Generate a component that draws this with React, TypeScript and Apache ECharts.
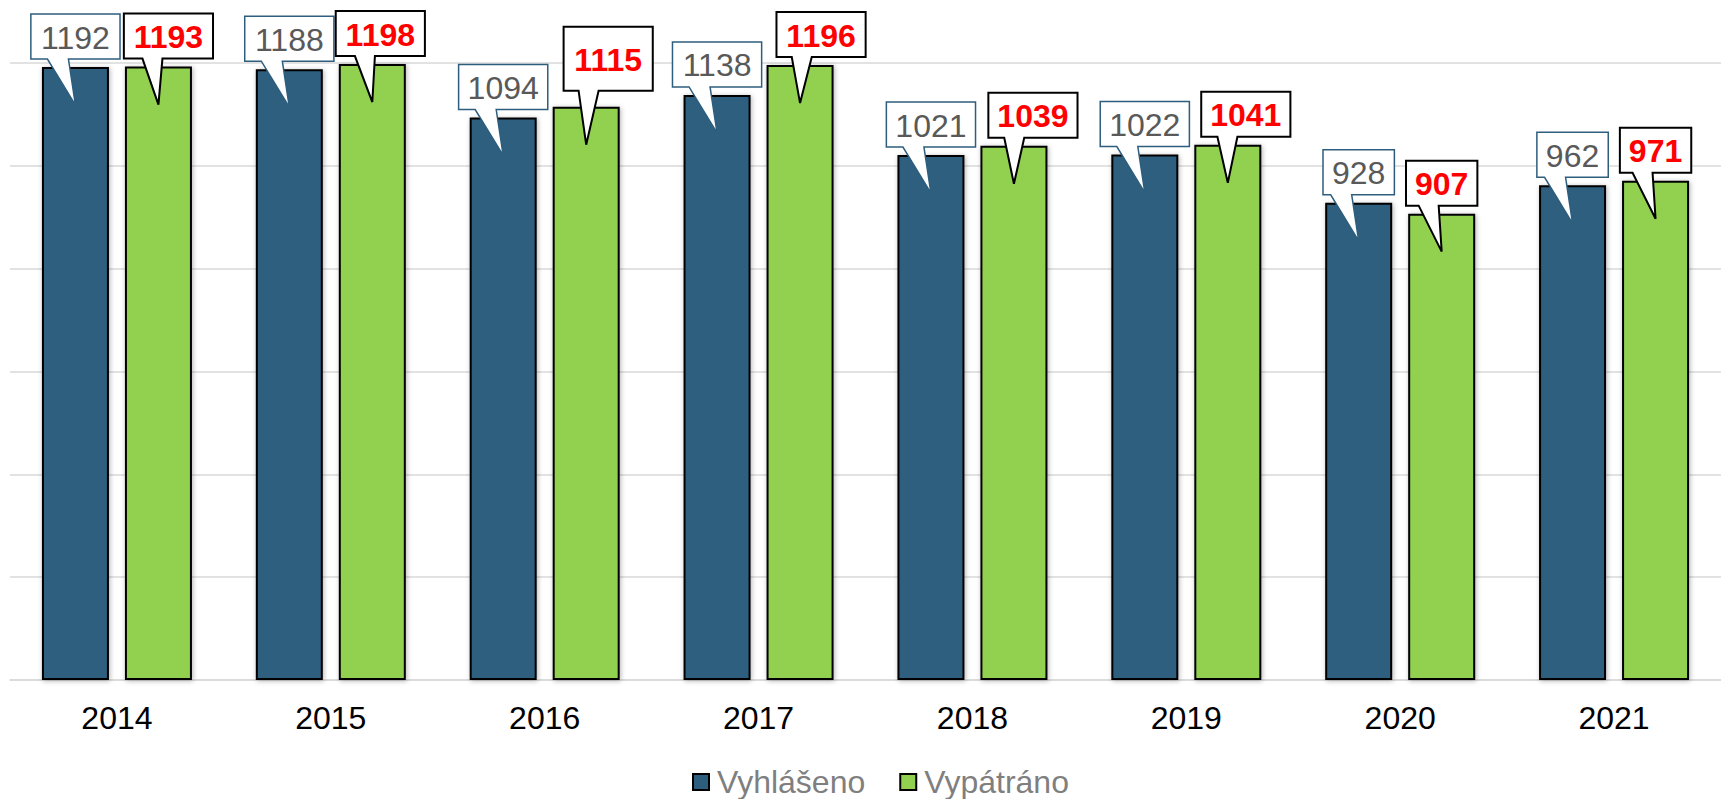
import React, { useEffect, useRef } from "react";
import * as echarts from "echarts";

const years = ["2014", "2015", "2016", "2017", "2018", "2019", "2020", "2021"];
const vyhlaseno = [1192, 1188, 1094, 1138, 1021, 1022, 928, 962];
const vypatrano = [1193, 1198, 1115, 1196, 1039, 1041, 907, 971];
const seriesNames = ["Vyhlášeno", "Vypátráno"];

// label-layout styling: horizontal nudge (px) of the green callouts to avoid the blue ones
const greenCalloutNudge = [10, 8, 22, 21, 19, 18, 0, 0];
// callouts that are drawn raised & taller
const greenRaised = [false, false, true, false, false, false, false, false];

const FONT = "Liberation Sans, Arial, Helvetica, sans-serif";
const BLUE = "#2E5E7E";
const GREEN = "#92D050";
const BAR_W = 67;
const BAR_GAP = 16;
const LABEL_SIZE = 32;

function makeCallout(kind: "blue" | "green") {
  const offset = kind === "blue" ? -(BAR_W + BAR_GAP) / 2 : (BAR_W + BAR_GAP) / 2;
  return (params: any, api: any) => {
    const idx = api.value(0);
    const val = api.value(1);
    const p = api.coord([idx, val]);
    const cx = p[0] + offset;
    const barTop = p[1];
    const txt = String(val);
    const bold = kind === "green";
    const nudge = kind === "green" ? greenCalloutNudge[idx] : 0;
    const bx = cx + nudge;
    const w = txt.length * LABEL_SIZE * 0.556 + 18;
    const raised = kind === "green" && greenRaised[idx];
    const B = barTop - (raised ? 16 : 8);
    const T = raised ? barTop - 80 : B - 45;
    const L = bx - w / 2;
    const R = bx + w / 2;
    const a = kind === "blue" ? cx - 28 : cx - 23 + nudge * 0.7;
    const b = kind === "blue" ? cx - 7 : a + 20;
    const tx = cx;
    const ty = barTop + 38;
    return {
      type: "group",
      children: [
        {
          type: "polygon",
          shape: {
            points: [
              [L, T],
              [R, T],
              [R, B],
              [b, B],
              [tx, ty],
              [a, B],
              [L, B],
            ],
          },
          style: {
            fill: "#ffffff",
            stroke: kind === "blue" ? BLUE : "#000000",
            lineWidth: kind === "blue" ? 1.5 : 2,
            lineJoin: "miter",
          },
        },
        {
          type: "text",
          style: {
            text: txt,
            x: bx,
            y: (T + B) / 2 + 1,
            align: "center",
            verticalAlign: "middle",
            fontFamily: FONT,
            fontSize: LABEL_SIZE,
            fontWeight: bold ? "bold" : "normal",
            fill: kind === "blue" ? "#595959" : "#FF0000",
          },
        },
      ],
    };
  };
}

export default function App() {
  const ref = useRef<HTMLDivElement>(null);
  useEffect(() => {
    if (!ref.current) return;
    const chart = echarts.init(ref.current, null, { renderer: "svg" });
    const barStyle = (color: string) => ({
      color,
      borderColor: "#000000",
      borderWidth: 2,
      shadowBlur: 5,
      shadowColor: "rgba(0,0,0,0.3)",
      shadowOffsetX: 1,
      shadowOffsetY: 1,
    });
    chart.setOption({
      animation: false,
      backgroundColor: "#ffffff",
      textStyle: { fontFamily: FONT },
      grid: { left: 10, top: 63, width: 1727, bottom: 119, containLabel: false },
      legend: {
        data: seriesNames,
        left: 692,
        top: 766,
        padding: 0,
        icon: "rect",
        itemWidth: 16,
        itemHeight: 16,
        itemGap: 34,
        textStyle: {
          color: "#7F7F7F",
          fontSize: 32,
          lineHeight: 31,
          fontFamily: FONT,
          padding: [0, 0, 0, 3],
        },
      },
      xAxis: {
        type: "category",
        data: years,
        axisTick: { show: false },
        axisLine: { lineStyle: { color: "#D9D9D9", width: 1.5 } },
        axisLabel: { color: "#000000", fontSize: 32, margin: 22, fontFamily: FONT },
      },
      yAxis: {
        type: "value",
        min: 0,
        max: 1200,
        interval: 200,
        axisLabel: { show: false },
        axisLine: { show: false },
        axisTick: { show: false },
        splitLine: { lineStyle: { color: "#D9D9D9", width: 1.5 } },
      },
      series: [
        {
          name: seriesNames[0],
          type: "bar",
          data: vyhlaseno,
          barWidth: BAR_W,
          barGap: `${(BAR_GAP / BAR_W) * 100}%`,
          itemStyle: barStyle(BLUE),
        },
        {
          name: seriesNames[1],
          type: "bar",
          data: vypatrano,
          barWidth: BAR_W,
          barGap: `${(BAR_GAP / BAR_W) * 100}%`,
          itemStyle: barStyle(GREEN),
        },
        {
          type: "custom",
          name: "callout-blue",
          data: vyhlaseno.map((v, i) => [i, v]),
          encode: { x: 0, y: 1 },
          renderItem: makeCallout("blue"),
          clip: false,
          z: 5,
        },
        {
          type: "custom",
          name: "callout-green",
          data: vypatrano.map((v, i) => [i, v]),
          encode: { x: 0, y: 1 },
          renderItem: makeCallout("green"),
          clip: false,
          z: 5,
        },
      ],
    });
    return () => chart.dispose();
  }, []);
  return (
    <div
      ref={ref}
      style={{ position: "absolute", left: 0, top: 0, width: 1721, height: 799, background: "#fff" }}
    />
  );
}
